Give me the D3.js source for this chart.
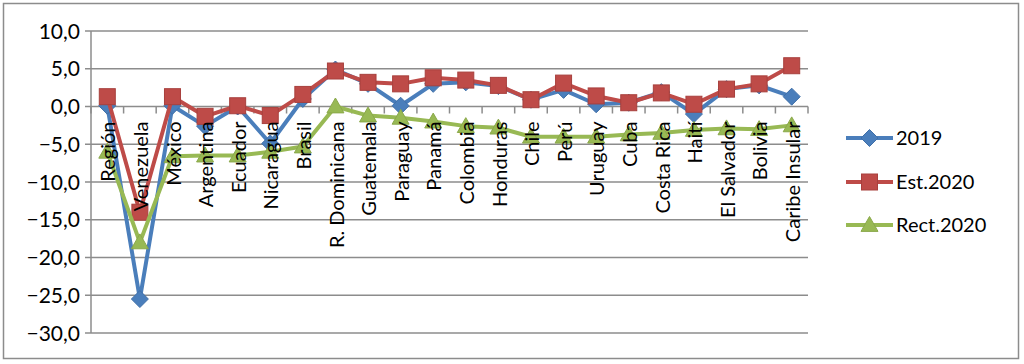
<!DOCTYPE html>
<html><head><meta charset="utf-8">
<script src="https://cdn.jsdelivr.net/npm/d3@7/dist/d3.min.js"></script>
<style>body{margin:0;background:#fff;}svg{display:block;}text{font-family:Lato,"Liberation Sans",sans-serif;}</style>
</head><body><svg id="c" width="1024" height="364"></svg>
<script>
const categories = ["Región","Venezuela","México","Argentina","Ecuador","Nicaragua","Brasil","R. Dominicana","Guatemala","Paraguay","Panamá","Colombia","Honduras","Chile","Perú","Uruguay","Cuba","Costa Rica","Haití","El Salvador","Bolivia","Caribe Insular"];
const s2019 = [0.1,-25.5,0.1,-2.6,0.0,-4.9,1.0,4.9,3.0,0.1,3.0,3.2,2.7,0.9,2.2,0.3,0.5,1.9,-1.0,2.3,2.8,1.3];
const est2020 = [1.3,-14.0,1.3,-1.3,0.1,-1.2,1.6,4.7,3.2,3.0,3.8,3.5,2.8,0.9,3.1,1.4,0.5,1.8,0.3,2.3,3.0,5.4];
const rect2020 = [-6.0,-18.0,-6.6,-6.5,-6.5,-6.0,-5.3,0.0,-1.2,-1.5,-2.0,-2.6,-2.8,-4.0,-4.0,-4.0,-3.7,-3.5,-3.1,-2.9,-3.0,-2.5];
const yTicks = [10,5,0,-5,-10,-15,-20,-25,-30];
const seriesNames = ["2019","Est.2020","Rect.2020"];
const colors = ["#4A7EBB","#BE4B48","#98B954"];

const svg = d3.select("#c");
svg.append("rect").attr("x",3.5).attr("y",3.5).attr("width",1015).attr("height",355)
  .attr("fill","#fff").attr("stroke","#8c8c8c").attr("stroke-width",1.5);

const x = d3.scaleBand().domain(categories).range([91,808]);
const y = d3.scaleLinear().domain([-30,10]).range([333,31]);

// gridlines
svg.append("g").selectAll("line").data(yTicks).join("line")
  .attr("x1",85).attr("x2",808).attr("y1",d=>y(d)).attr("y2",d=>y(d))
  .attr("stroke","#8c8c8c").attr("stroke-width",1.5);
// y axis line
svg.append("line").attr("x1",91).attr("x2",91).attr("y1",y(10)).attr("y2",y(-30))
  .attr("stroke","#8c8c8c").attr("stroke-width",1.5);
// y labels
svg.append("g").selectAll("text").data(yTicks).join("text")
  .attr("x",80).attr("y",d=>y(d)).attr("dy","0.36em").attr("text-anchor","end")
  .attr("font-size",21).attr("fill","#000").text(d=>d3.format(".1f")(d).replace(".",","));

// category axis at 0
const y0 = y(0);
svg.append("g").selectAll("line").data(d3.range(categories.length+1)).join("line")
  .attr("x1",i=>91+i*x.step()).attr("x2",i=>91+i*x.step())
  .attr("y1",y0).attr("y2",y0+7).attr("stroke","#8c8c8c").attr("stroke-width",1.5);

const data = [s2019,est2020,rect2020];
const line = d3.line().x((d,i)=>x(categories[i])+x.bandwidth()/2).y(d=>y(d));

function marker(g,k,cx,cy){
  if(k===0){
    const r=8.5;
    g.append("path").attr("d",`M${cx},${cy-r}L${cx+r},${cy}L${cx},${cy+r}L${cx-r},${cy}Z`).attr("fill",colors[0]).attr("stroke","#3f6fa8").attr("stroke-width",1);
  } else if(k===1){
    const r=8;
    g.append("rect").attr("x",cx-r).attr("y",cy-r).attr("width",2*r).attr("height",2*r).attr("fill",colors[1]).attr("stroke","#a8403d").attr("stroke-width",1);
  } else {
    const r=8.5;
    g.append("path").attr("d",`M${cx},${cy-r}L${cx+r},${cy+r*0.75}L${cx-r},${cy+r*0.75}Z`).attr("fill",colors[2]).attr("stroke","#8aa84a").attr("stroke-width",1);
  }
}

data.forEach((arr,k)=>{
  svg.append("path").datum(arr).attr("d",line).attr("fill","none")
    .attr("stroke",colors[k]).attr("stroke-width",4).attr("stroke-linejoin","round");
  const g = svg.append("g");
  arr.forEach((v,i)=>marker(g,k,x(categories[i])+x.bandwidth()/2,y(v)));
});

// category labels on top of series
svg.append("g").selectAll("text").data(categories).join("text")
  .attr("transform",d=>`translate(${x(d)+x.bandwidth()/2+1},${y0+15}) rotate(-90)`)
  .attr("dy","0.36em").attr("text-anchor","end").attr("font-size",20).attr("fill","#000").text(d=>d);

// legend
const legY = [138,182,225];
seriesNames.forEach((n,k)=>{
  svg.append("line").attr("x1",846).attr("x2",893).attr("y1",legY[k]).attr("y2",legY[k])
    .attr("stroke",colors[k]).attr("stroke-width",4);
  const g = svg.append("g");
  marker(g,k,869.5,legY[k]);
  svg.append("text").attr("x",896).attr("y",legY[k]).attr("dy","0.36em").attr("font-size",20).attr("fill","#000").text(n);
});
</script></body></html>
